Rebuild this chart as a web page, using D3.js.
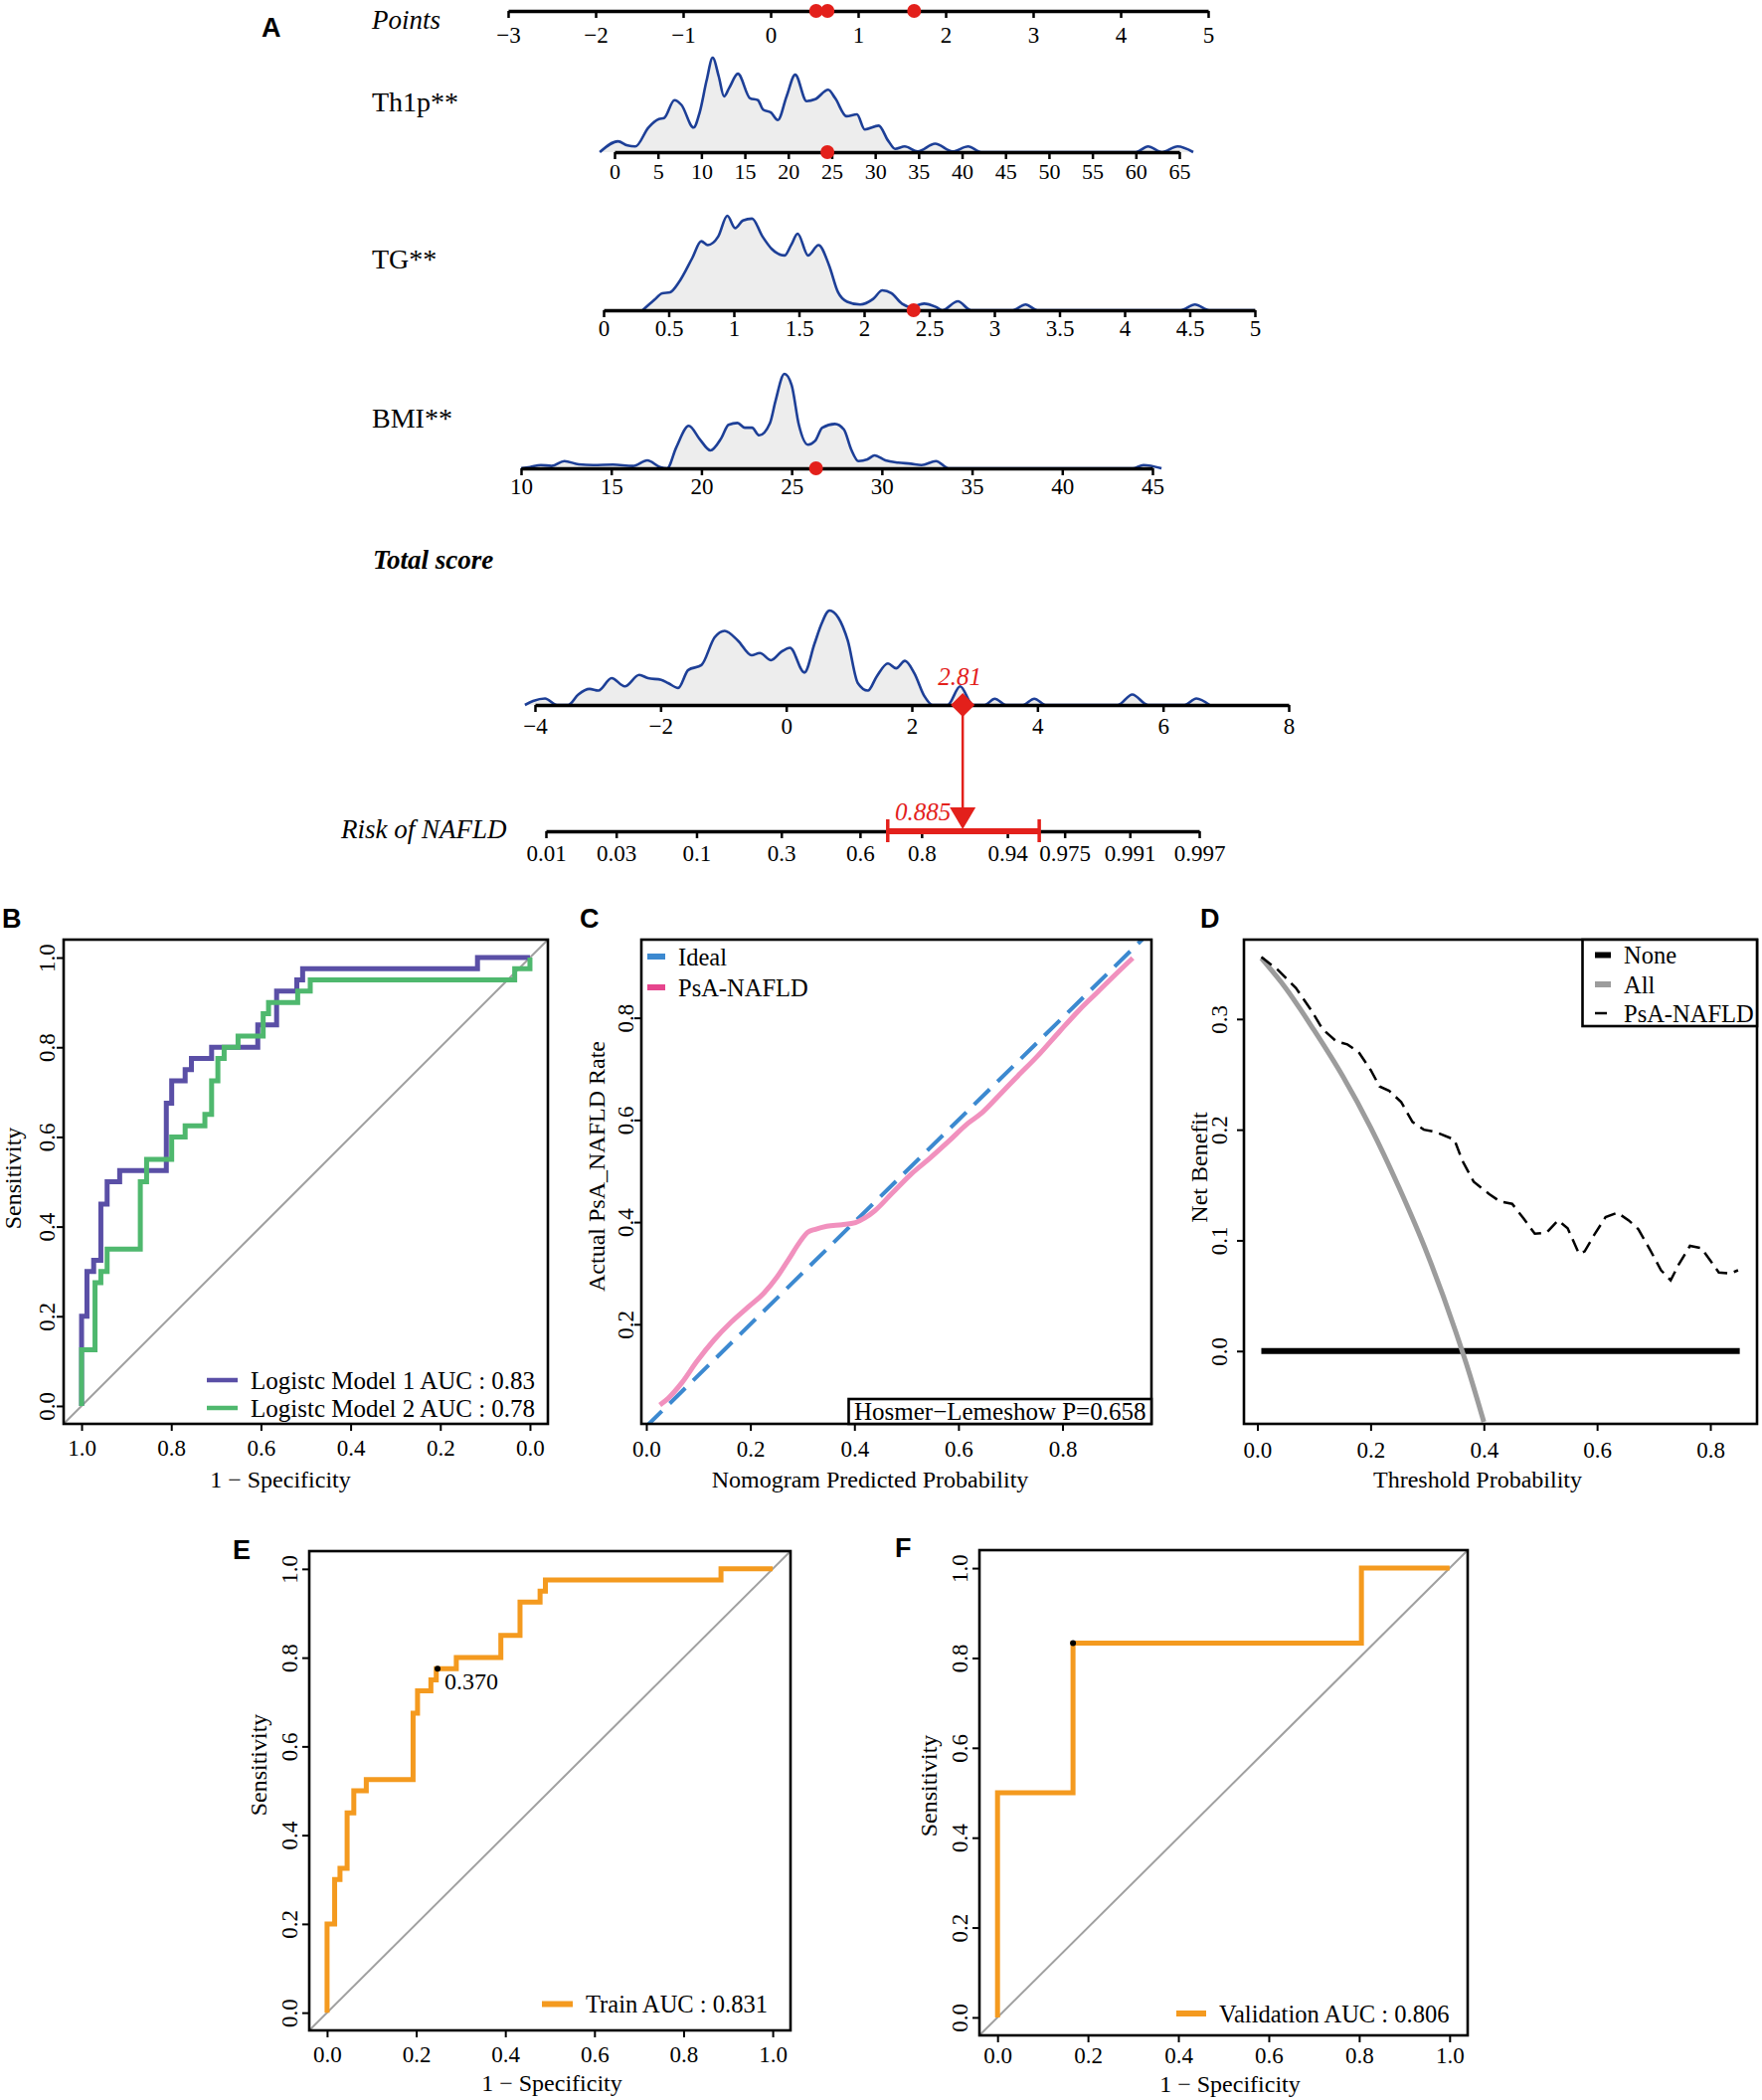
<!DOCTYPE html>
<html>
<head>
<meta charset="utf-8">
<title>PsA-NAFLD nomogram and model evaluation</title>
<script src="https://cdn.jsdelivr.net/npm/d3@7"></script>
<style>
  body { margin: 0; background: #fff; }
  svg text { font-family: 'Liberation Serif', 'Times New Roman', Times, serif; }
  svg text.tag { font-family: 'Liberation Sans', Arial, Helvetica, sans-serif; font-weight: bold; }
</style>
</head>
<body>
<script>
// ---------------- Panel A: nomogram ----------------
var pointsTicks = [-3, -2, -1, 0, 1, 2, 3, 4, 5];
var pointsDots = [0.52, 0.65, 1.64];          // BMI, Th1p, TG contributions

var th1pTicks = [0, 5, 10, 15, 20, 25, 30, 35, 40, 45, 50, 55, 60, 65];
var th1pX = [-1.7, 0.4, 1.5, 2.4, 3.9, 5.1, 5.7, 6.9, 7.7, 9.1, 9.8, 10.6, 11.3, 12.0, 12.6, 13.2, 14.2, 15.6, 16.5,
             17.1, 18.0, 18.8, 19.8, 20.8, 22.1, 23.1, 24.6, 25.4, 26.7, 27.9, 28.8, 30.4, 31.5, 32.3, 33.4, 34.9,
             36.9, 38.9, 40.7, 42.2, 60.0, 61.4, 63.0, 64.8, 66.6];
var th1pD = [0, 0.115, 0.07, 0.06, 0.26, 0.35, 0.36, 0.55, 0.50, 0.26, 0.42, 0.76, 1.0, 0.8, 0.59, 0.68, 0.83, 0.57, 0.55,
             0.45, 0.42, 0.34, 0.59, 0.82, 0.54, 0.56, 0.66, 0.57, 0.38, 0.40, 0.24, 0.28, 0.12, 0.035, 0.06, 0.007,
             0.09, 0.007, 0.06, 0, 0, 0.06, 0, 0.06, 0];
var th1pValue = 24.5;

var tgTicks = [0, 0.5, 1, 1.5, 2, 2.5, 3, 3.5, 4, 4.5, 5];
var tgX = [0.30, 0.39, 0.45, 0.51, 0.58, 0.68, 0.75, 0.80, 0.88, 0.95, 1.01, 1.07, 1.14, 1.22, 1.29, 1.39, 1.44,
           1.49, 1.57, 1.65, 1.73, 1.80, 1.87, 1.97, 2.07, 2.14, 2.21, 2.29, 2.36, 2.46, 2.55, 2.60, 2.72, 2.82,
           3.14, 3.24, 3.33, 4.43, 4.54, 4.65, 5.0];
var tgD = [0, 0.11, 0.18, 0.19, 0.30, 0.55, 0.73, 0.69, 0.78, 1.0, 0.87, 0.95, 0.97, 0.78, 0.65, 0.58, 0.69,
           0.81, 0.58, 0.69, 0.48, 0.19, 0.09, 0.06, 0.12, 0.21, 0.18, 0.07, 0.035, 0.07, 0.035, 0, 0.095, 0,
           0, 0.06, 0, 0, 0.06, 0, 0];
var tgValue = 2.38;

var bmiTicks = [10, 15, 20, 25, 30, 35, 40, 45];
var bmiX = [10.0, 10.5, 11.1, 11.7, 12.4, 13.2, 14.0, 15.1, 16.2, 17.0, 17.7, 18.1, 18.6, 19.3, 19.9, 20.5, 21.1,
            21.5, 22.0, 22.4, 22.8, 23.2, 23.8, 24.1, 24.6, 25.0, 25.4, 25.9, 26.3, 26.7, 27.4, 27.9, 28.3,
            28.7, 29.2, 29.6, 30.2, 30.9, 31.6, 32.2, 33.0, 33.7, 43.9, 44.5, 45.5];
var bmiD = [0, 0.014, 0.035, 0.025, 0.077, 0.042, 0.035, 0.039, 0.025, 0.084, 0.014, 0, 0.22, 0.45, 0.31, 0.19,
            0.32, 0.46, 0.48, 0.43, 0.43, 0.35, 0.48, 0.71, 1.0, 0.88, 0.46, 0.25, 0.29, 0.43, 0.47, 0.41, 0.2,
            0.077, 0.095, 0.137, 0.084, 0.06, 0.049, 0.035, 0.077, 0, 0, 0.035, 0];
var bmiValue = 26.35;

var totalTicks = [-4, -2, 0, 2, 4, 6, 8];
var totalX = [-4.16, -4.03, -3.84, -3.65, -3.47, -3.31, -3.13, -2.99, -2.78, -2.57, -2.34, -2.20, -1.99, -1.88,
              -1.72, -1.56, -1.35, -1.14, -0.98, -0.77, -0.55, -0.42, -0.24, -0.08, 0.06, 0.29, 0.45, 0.56,
              0.69, 0.83, 0.98, 1.14, 1.30, 1.44, 1.62, 1.75, 1.89, 2.04, 2.20, 2.33, 2.57, 2.77, 2.97, 3.16,
              3.32, 3.50, 3.77, 3.95, 4.13, 5.28, 5.51, 5.76, 6.34, 6.53, 6.74];
var totalD = [0, 0.042, 0.069, 0, 0, 0.111, 0.170, 0.152, 0.284, 0.197, 0.318, 0.284, 0.266, 0.232,
              0.180, 0.370, 0.422, 0.716, 0.785, 0.682, 0.526, 0.550, 0.474, 0.561, 0.606, 0.343, 0.647, 0.855,
              1.0, 0.924, 0.682, 0.232, 0.152, 0.301, 0.439, 0.388, 0.467, 0.336, 0.093, 0, 0, 0.197, 0, 0,
              0.066, 0, 0, 0.066, 0, 0, 0.111, 0, 0, 0.069, 0];
var totalScore = 2.81;

var riskTicks = [0.01, 0.03, 0.1, 0.3, 0.6, 0.8, 0.94, 0.975, 0.991, 0.997];
var riskEstimate = 0.885;
var riskCI = [0.70, 0.963];

// ---------------- Panel B: ROC of two models (specificity, sensitivity) ----------------
var m1Spec = [1, 1, 0.988, 0.973, 0.957, 0.943, 0.915, 0.811, 0.799, 0.769, 0.755, 0.71, 0.607, 0.565, 0.52, 0.507, 0.117, 0];
var m1Sens = [0, 0.2, 0.3, 0.325, 0.45, 0.5, 0.525, 0.675, 0.725, 0.75, 0.775, 0.8, 0.85, 0.925, 0.95, 0.975, 1, 1];
var m2Spec = [1, 1, 0.97, 0.957, 0.943, 0.869, 0.855, 0.799, 0.769, 0.725, 0.71, 0.696, 0.682, 0.651, 0.595, 0.583, 0.518, 0.49, 0.034, 0];
var m2Sens = [0, 0.125, 0.275, 0.3, 0.35, 0.5, 0.55, 0.6, 0.625, 0.65, 0.725, 0.775, 0.8, 0.825, 0.875, 0.9, 0.925, 0.95, 0.975, 1];

// ---------------- Panel C: calibration ----------------
var idealX = [0, 0.96];
var idealY = [0, 0.96];
var calX = [0.026, 0.042, 0.068, 0.097, 0.130, 0.163, 0.196, 0.226, 0.251, 0.273, 0.295, 0.31, 0.325, 0.347, 0.376, 0.402,
            0.42, 0.439, 0.472, 0.508, 0.545, 0.582, 0.619, 0.644, 0.677, 0.714, 0.751, 0.795, 0.832, 0.865, 0.898, 0.935];
var calY = [0.042, 0.055, 0.085, 0.127, 0.169, 0.204, 0.234, 0.261, 0.292, 0.326, 0.361, 0.380, 0.386, 0.392, 0.395, 0.399,
            0.408, 0.422, 0.456, 0.493, 0.525, 0.559, 0.594, 0.613, 0.647, 0.686, 0.724, 0.774, 0.815, 0.848, 0.881, 0.917];

// ---------------- Panel D: decision curve ----------------
var noneT = [0.007, 0.852];
var noneNB = [0, 0];
var allT = [0.007, 0.05, 0.10, 0.15, 0.20, 0.25, 0.30, 0.35, 0.375, 0.40];
var allNB = [0.355, 0.328, 0.290, 0.249, 0.202, 0.148, 0.088, 0.018, -0.021, -0.064];
var modelT = [0.007, 0.037, 0.068, 0.095, 0.115, 0.139, 0.159, 0.179, 0.2, 0.216, 0.233, 0.254, 0.274, 0.294, 0.314,
              0.348, 0.362, 0.382, 0.409, 0.429, 0.45, 0.47, 0.49, 0.511, 0.531, 0.548, 0.568, 0.578, 0.595, 0.615,
              0.636, 0.656, 0.673, 0.693, 0.713, 0.73, 0.744, 0.764, 0.784, 0.801, 0.815, 0.835, 0.849];
var modelNB = [0.356, 0.344, 0.328, 0.308, 0.291, 0.280, 0.277, 0.270, 0.254, 0.239, 0.235, 0.225, 0.207, 0.200, 0.198,
               0.191, 0.172, 0.153, 0.142, 0.135, 0.133, 0.120, 0.106, 0.107, 0.118, 0.111, 0.088, 0.090, 0.105, 0.121,
               0.125, 0.118, 0.110, 0.092, 0.073, 0.064, 0.078, 0.095, 0.093, 0.081, 0.071, 0.070, 0.073];

// ---------------- Panels E, F: train / validation ROC (1 - specificity, sensitivity) ----------------
var trainFpr = [0, 0, 0.017, 0.029, 0.045, 0.06, 0.088, 0.193, 0.203, 0.233, 0.245, 0.29, 0.39, 0.433, 0.478, 0.49, 0.884, 1];
var trainTpr = [0, 0.2, 0.3, 0.325, 0.45, 0.5, 0.525, 0.675, 0.725, 0.75, 0.775, 0.8, 0.85, 0.925, 0.95, 0.975, 1, 1];
var trainCut = [0.248, 0.775];
var validFpr = [0, 0, 0.167, 0.805, 1];
var validTpr = [0, 0.5, 0.833, 1, 1];
var validCut = [0.167, 0.833];

var rocTicks = [0, 0.2, 0.4, 0.6, 0.8, 1.0];

// ---------------- drawing ----------------
var serif = "'Liberation Serif', 'Times New Roman', Times, serif";
var red = "#e3201b", navy = "#1d3f97";
var W = 1772, H = 2112;

var svg = d3.select("body").append("svg")
    .attr("width", W)
    .attr("height", H);
svg.append("rect").attr("width", W).attr("height", H).attr("fill", "#fff");

function text(x, y, s, size, opts) {
    opts = opts || {};
    var t = svg.append("text")
        .attr("x", x).attr("y", y)
        .attr("font-size", size)
        .attr("fill", opts.fill || "#000")
        .attr("text-anchor", opts.anchor || "start")
        .text(s);
    if (opts.italic) t.style("font-style", "italic");
    if (opts.bold) t.style("font-weight", "bold");
    if (opts.cls) t.attr("class", opts.cls);
    if (opts.rotate) t.attr("transform", "rotate(-90," + x + "," + y + ")");
    return t;
}

function minusFmt(d) { return d < 0 ? "\u2212" + (-d) : String(d); }

function styleTicks(g, size) {
    g.attr("font-size", size);
    g.selectAll(".tick text").attr("fill", "#000").style("font-family", serif);
}

function nomoAxis(scale, y, ticks, fmt, pad, size) {
    var g = svg.append("g")
        .attr("transform", "translate(0," + y + ")")
        .call(d3.axisBottom(scale).tickValues(ticks).tickFormat(fmt)
            .tickSize(7).tickSizeOuter(0).tickPadding(pad));
    styleTicks(g, size);
    g.select(".domain").attr("stroke-width", 3.5);
    g.selectAll(".tick line").attr("stroke-width", 2.5);
    return g;
}

function densityShape(scale, y, xs, ds) {
    var h = d3.scaleLinear().domain([0, 1]).range([y, y - 95]);
    var pts = xs.map(function (v, i) { return [v, ds[i]]; });
    var area = d3.area().curve(d3.curveMonotoneX)
        .x(function (d) { return scale(d[0]); })
        .y0(y)
        .y1(function (d) { return h(d[1]); });
    var line = d3.line().curve(d3.curveMonotoneX)
        .x(function (d) { return scale(d[0]); })
        .y(function (d) { return h(d[1]); });
    svg.append("path").datum(pts).attr("d", area).attr("fill", "#ededed");
    svg.append("path").datum(pts).attr("d", line)
        .attr("fill", "none").attr("stroke", navy).attr("stroke-width", 2.6);
}

function redDot(x, y) {
    svg.append("circle").attr("cx", x).attr("cy", y).attr("r", 7).attr("fill", red);
}

// scales of the nomogram rows
var yPoints = 11, yTh1p = 153, yTG = 312, yBMI = 471, yTotal = 709, yRisk = 836;
var xPoints = d3.scaleLinear().domain([-3, 5]).range([511, 1215]);
var xTh1p = d3.scaleLinear().domain([0, 65]).range([618, 1186]);
var xTG = d3.scaleLinear().domain([0, 5]).range([607, 1262]);
var xBMI = d3.scaleLinear().domain([10, 45]).range([524, 1159]);
var xTotal = d3.scaleLinear().domain([-4, 8]).range([538, 1296]);

var logit = function (p) { return Math.log(p / (1 - p)); };
var riskShift = logit(riskEstimate) - totalScore;   // logit(risk) = total + shift
var riskLo = logit(riskTicks[0]), riskHi = logit(riskTicks[riskTicks.length - 1]);
var xRisk = d3.scaleLinear()
    .domain([riskLo, riskHi])
    .range([xTotal(riskLo - riskShift), xTotal(riskHi - riskShift)]);

// densities
densityShape(xTh1p, yTh1p, th1pX, th1pD);
densityShape(xTG, yTG, tgX, tgD);
densityShape(xBMI, yBMI, bmiX, bmiD);
densityShape(xTotal, yTotal, totalX, totalD);

// axes
nomoAxis(xPoints, yPoints, pointsTicks, minusFmt, 9, 23);
nomoAxis(xTh1p, yTh1p, th1pTicks, minusFmt, 4, 22);
nomoAxis(xTG, yTG, tgTicks, minusFmt, 3, 23);
nomoAxis(xBMI, yBMI, bmiTicks, minusFmt, 3, 23);
nomoAxis(xTotal, yTotal, totalTicks, minusFmt, 6, 23);
nomoAxis(xRisk, yRisk, riskTicks.map(logit), function (d, i) { return String(riskTicks[i]); }, 7, 23);

// row labels
text(263, 37, "A", 27, { cls: "tag" });
text(374, 29, "Points", 27, { italic: true });
text(374, 112, "Th1p**", 28);
text(374, 270, "TG**", 28);
text(374, 430, "BMI**", 28);
text(375, 572, "Total score", 27, { italic: true, bold: true });
text(343, 843, "Risk of NAFLD", 27, { italic: true });

// observed values
pointsDots.forEach(function (p) { redDot(xPoints(p), yPoints); });
redDot(xTh1p(th1pValue), yTh1p);
redDot(xTG(tgValue), yTG);
redDot(xBMI(bmiValue), yBMI);

// total score -> risk
var xt = xTotal(totalScore);
var xr = xRisk(logit(riskEstimate));
svg.append("line").attr("x1", xt).attr("x2", xr).attr("y1", yTotal).attr("y2", yRisk - 24)
    .attr("stroke", red).attr("stroke-width", 2.5);
svg.append("path")
    .attr("d", "M" + (xr - 13) + "," + (yRisk - 24) + "L" + (xr + 13) + "," + (yRisk - 24) + "L" + xr + "," + (yRisk - 2) + "Z")
    .attr("fill", red);
svg.append("path")
    .attr("d", "M" + xt + "," + (yTotal - 12) + "L" + (xt + 12) + "," + yTotal + "L" + xt + "," + (yTotal + 12) + "L" + (xt - 12) + "," + yTotal + "Z")
    .attr("fill", red);
text(xt - 3, yTotal - 20, String(totalScore), 25, { italic: true, fill: red, anchor: "middle" });

var ci0 = xRisk(logit(riskCI[0])), ci1 = xRisk(logit(riskCI[1]));
svg.append("line").attr("x1", ci0).attr("x2", ci1).attr("y1", yRisk).attr("y2", yRisk)
    .attr("stroke", red).attr("stroke-width", 6);
[ci0, ci1].forEach(function (cx) {
    svg.append("line").attr("x1", cx).attr("x2", cx).attr("y1", yRisk - 12).attr("y2", yRisk + 11)
        .attr("stroke", red).attr("stroke-width", 3.5);
});
text(xr - 12, yRisk - 11, String(riskEstimate), 25, { italic: true, fill: red, anchor: "end" });

// ---------------- framed panels ----------------
function makePanel(c) {
    var x = d3.scaleLinear().domain(c.xDomain).range([c.l, c.r]);
    var y = d3.scaleLinear().domain(c.yDomain).range([c.b, c.t]);
    var id = "clip" + c.name;
    svg.append("clipPath").attr("id", id).append("rect")
        .attr("x", c.l).attr("y", c.t).attr("width", c.r - c.l).attr("height", c.b - c.t);
    var plot = svg.append("g").attr("clip-path", "url(#" + id + ")");

    var gx = svg.append("g").attr("transform", "translate(0," + c.b + ")")
        .call(d3.axisBottom(x).tickValues(c.xTicks).tickFormat(d3.format(".1f"))
            .tickSize(7).tickSizeOuter(0).tickPadding(c.xOff - 23.3));
    var gy = svg.append("g").attr("transform", "translate(" + c.l + ",0)")
        .call(d3.axisLeft(y).tickValues(c.yTicks).tickFormat(d3.format(".1f"))
            .tickSize(7).tickSizeOuter(0));
    [gx, gy].forEach(function (g) {
        styleTicks(g, 23);
        g.select(".domain").remove();
        g.selectAll(".tick line").attr("stroke-width", 2);
    });
    gy.selectAll(".tick text")
        .attr("x", null).attr("dy", null)
        .attr("text-anchor", "middle")
        .attr("transform", "translate(" + (-c.yOff) + ",0) rotate(-90)");

    svg.append("rect")
        .attr("x", c.l).attr("y", c.t).attr("width", c.r - c.l).attr("height", c.b - c.t)
        .attr("fill", "none").attr("stroke", "#000").attr("stroke-width", 2.6);

    text(c.xTitle[1], c.xTitle[2], c.xTitle[0], 24, { anchor: "middle" });
    text(c.yTitle[1], c.yTitle[2], c.yTitle[0], 24, { anchor: "middle", rotate: true });
    text(c.tag[1], c.tag[2], c.tag[0], 27, { cls: "tag" });
    return { x: x, y: y, plot: plot };
}

function series(p, xs, ys, color, width, curve, dash) {
    var pts = xs.map(function (v, i) { return [v, ys[i]]; });
    var path = p.plot.append("path").datum(pts)
        .attr("d", d3.line().curve(curve || d3.curveLinear)
            .x(function (d) { return p.x(d[0]); })
            .y(function (d) { return p.y(d[1]); }))
        .attr("fill", "none").attr("stroke", color).attr("stroke-width", width);
    if (dash) path.attr("stroke-dasharray", dash);
    return path;
}

function diagonal(p, reversed) {
    var d = p.x.domain();
    var lo = Math.min(d[0], d[1]), hi = Math.max(d[0], d[1]);
    var pts = reversed ? [[hi, 1 - hi], [lo, 1 - lo]] : [[lo, lo], [hi, hi]];
    p.plot.append("line")
        .attr("x1", p.x(pts[0][0])).attr("y1", p.y(pts[0][1]))
        .attr("x2", p.x(pts[1][0])).attr("y2", p.y(pts[1][1]))
        .attr("stroke", "#a0a0a0").attr("stroke-width", 2);
}

function legendRow(x0, x1, y, label, color, width, dash, size) {
    var l = svg.append("line").attr("x1", x0).attr("x2", x1).attr("y1", y).attr("y2", y)
        .attr("stroke", color).attr("stroke-width", width);
    if (dash) l.attr("stroke-dasharray", dash);
    text(x1 + 13, y + 8.5, label, size || 24.5);
}

var rocDomain = [-0.04, 1.04];

// B
var pB = makePanel({
    name: "B", l: 64, r: 551, t: 945, b: 1432,
    xDomain: [1.04, -0.04], yDomain: rocDomain, xTicks: rocTicks, yTicks: rocTicks,
    xOff: 31.5, yOff: 9,
    xTitle: ["1 \u2212 Specificity", 282, 1496], yTitle: ["Sensitivity", 21, 1185], tag: ["B", 2, 933]
});
diagonal(pB, true);
series(pB, m1Spec, m1Sens, "#5a4fa6", 5, d3.curveStepAfter);
series(pB, m2Spec, m2Sens, "#4fb86e", 5, d3.curveStepAfter);
legendRow(208, 239, 1388, "Logistc Model 1 AUC : 0.83", "#5a4fa6", 4.5, null, 25);
legendRow(208, 239, 1416, "Logistc Model 2 AUC : 0.78", "#4fb86e", 4.5, null, 25);

// C
var pC = makePanel({
    name: "C", l: 645, r: 1158, t: 945, b: 1432,
    xDomain: [-0.0095, 0.971], yDomain: [0.005, 0.953],
    xTicks: [0, 0.2, 0.4, 0.6, 0.8], yTicks: [0.2, 0.4, 0.6, 0.8],
    xOff: 33, yOff: 8,
    xTitle: ["Nomogram Predicted Probability", 875, 1496], yTitle: ["Actual PsA_NAFLD Rate", 608, 1173],
    tag: ["C", 583, 933]
});
series(pC, idealX, idealY, "#3c89d0", 4, d3.curveLinear, "22,11");
series(pC, calX, calY, "#f191be", 5, d3.curveMonotoneX);
legendRow(651, 669, 962, "Ideal", "#3c89d0", 6, null, 24.5);
legendRow(651, 669, 993, "PsA-NAFLD", "#e6458d", 6, null, 24.5);
svg.append("rect").attr("x", 853.5).attr("y", 1407).attr("width", 1158 - 853.5).attr("height", 1432 - 1407)
    .attr("fill", "#fff").attr("stroke", "#000").attr("stroke-width", 2.6);
text(859, 1428, "Hosmer\u2212Lemeshow P=0.658", 25);

// D
var pD = makePanel({
    name: "D", l: 1251, r: 1767, t: 945, b: 1432,
    xDomain: [-0.0237, 0.8825], yDomain: [-0.0658, 0.3717],
    xTicks: [0, 0.2, 0.4, 0.6, 0.8], yTicks: [0, 0.1, 0.2, 0.3],
    xOff: 34, yOff: 17,
    xTitle: ["Threshold Probability", 1486, 1496], yTitle: ["Net Benefit", 1214, 1174],
    tag: ["D", 1207, 933]
});
series(pD, noneT, noneNB, "#000", 6);
series(pD, allT, allNB, "#9c9c9c", 5, d3.curveMonotoneX);
series(pD, modelT, modelNB, "#000", 2.5, d3.curveLinear, "13,7");
svg.append("rect").attr("x", 1591.5).attr("y", 945).attr("width", 1767 - 1591.5).attr("height", 1032 - 945)
    .attr("fill", "#fff").attr("stroke", "#000").attr("stroke-width", 2.6);
legendRow(1604, 1620, 960.5, "None", "#000", 6, null, 24.5);
legendRow(1604, 1620, 990, "All", "#9c9c9c", 6, null, 24.5);
legendRow(1604, 1620, 1019, "PsA-NAFLD", "#000", 2.5, "12,8", 24.5);

// E
var pE = makePanel({
    name: "E", l: 311, r: 795, t: 1560, b: 2042,
    xDomain: rocDomain, yDomain: rocDomain, xTicks: rocTicks, yTicks: rocTicks,
    xOff: 32, yOff: 12,
    xTitle: ["1 \u2212 Specificity", 555, 2103], yTitle: ["Sensitivity", 268, 1775], tag: ["E", 234, 1568]
});
diagonal(pE, false);
series(pE, trainFpr, trainTpr, "#f49a1f", 5, d3.curveStepAfter);
pE.plot.append("circle").attr("cx", pE.x(trainCut[0])).attr("cy", pE.y(trainCut[1])).attr("r", 3).attr("fill", "#000");
text(pE.x(trainCut[0]) + 7, pE.y(trainCut[1]) + 21, "0.370", 24);
legendRow(545, 576, 2015.5, "Train AUC : 0.831", "#f49a1f", 6, null, 24.5);

// F
var pF = makePanel({
    name: "F", l: 985, r: 1476, t: 1559, b: 2047,
    xDomain: rocDomain, yDomain: rocDomain, xTicks: rocTicks, yTicks: rocTicks,
    xOff: 28, yOff: 12,
    xTitle: ["1 \u2212 Specificity", 1237, 2104], yTitle: ["Sensitivity", 942, 1796], tag: ["F", 900, 1566]
});
diagonal(pF, false);
series(pF, validFpr, validTpr, "#f49a1f", 5, d3.curveStepAfter);
pF.plot.append("circle").attr("cx", pF.x(validCut[0])).attr("cy", pF.y(validCut[1])).attr("r", 3).attr("fill", "#000");
legendRow(1183, 1213, 2025, "Validation AUC : 0.806", "#f49a1f", 6, null, 24.5);
</script>
</body>
</html>
